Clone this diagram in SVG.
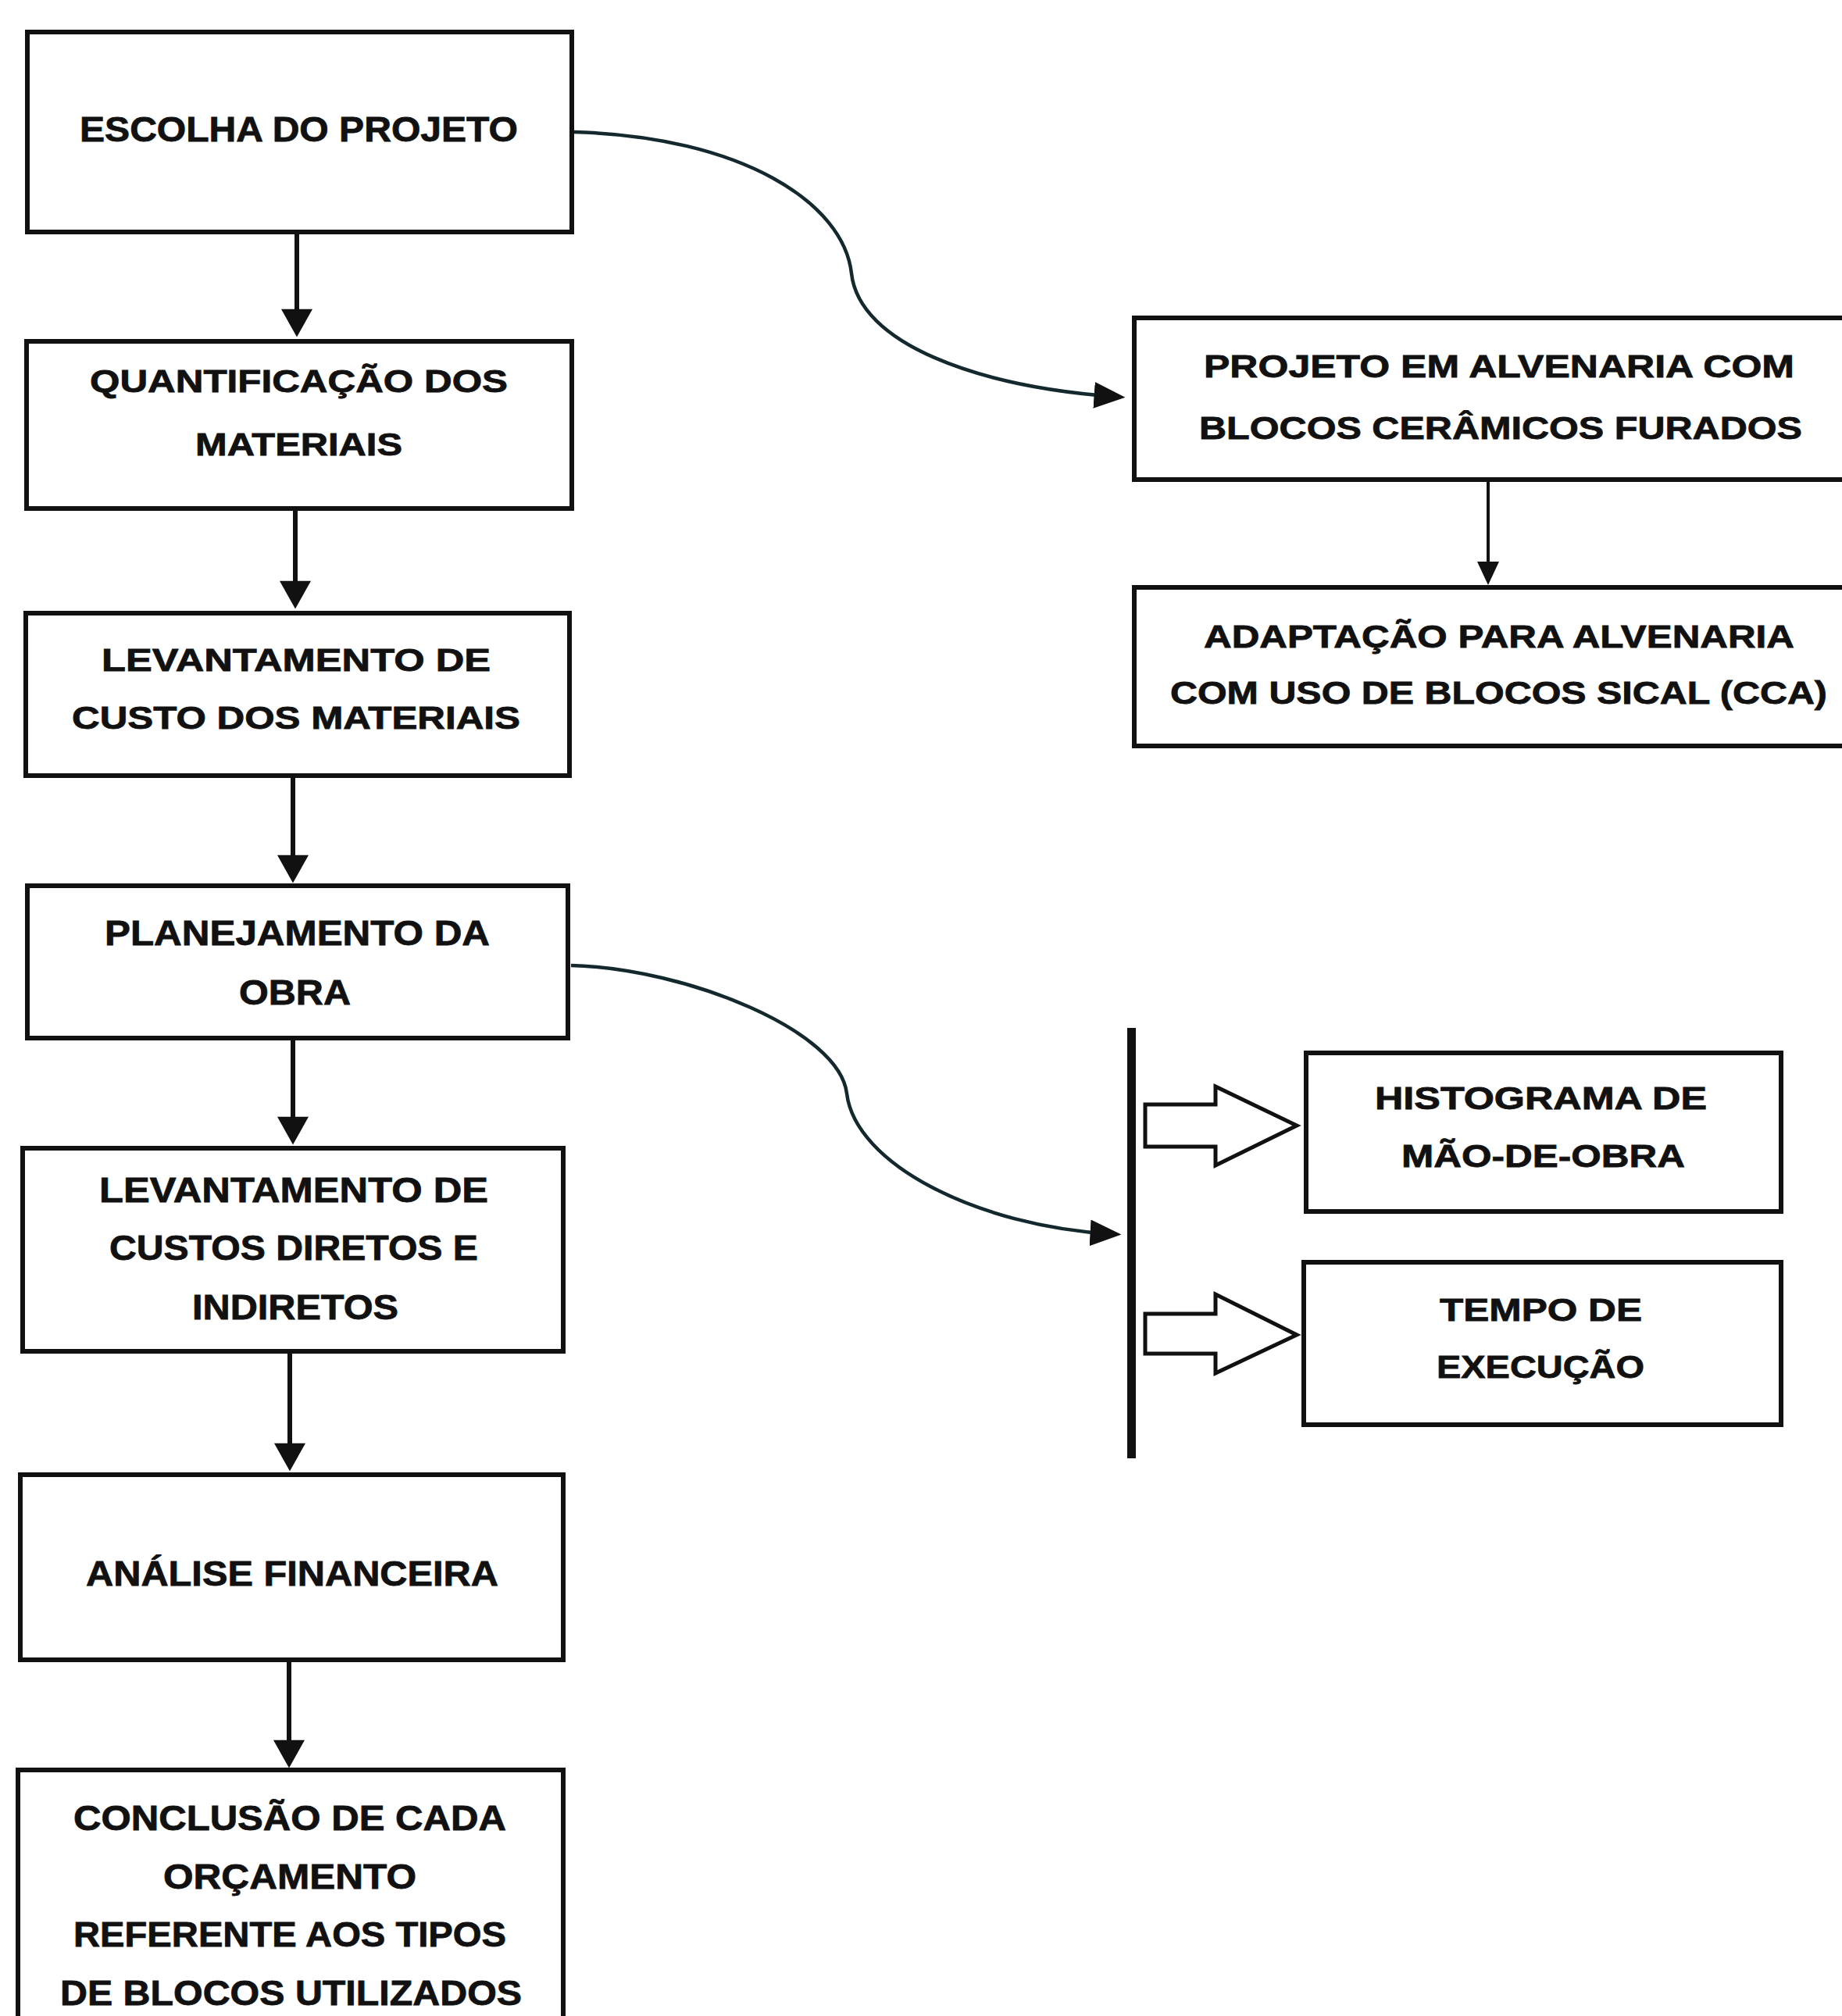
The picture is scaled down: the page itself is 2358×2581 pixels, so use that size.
<svg xmlns="http://www.w3.org/2000/svg" width="2358" height="2581" viewBox="0 0 2358 2581">
<style>
.box{fill:#fff;stroke:#111;stroke-width:6}
.t{font-family:"Liberation Sans",Arial,sans-serif;font-weight:bold;fill:#111;stroke:#111;stroke-width:0.8;font-size:45px}
.s{font-size:41px}
.v{fill:none;stroke:#111;stroke-width:6}
.c{fill:none;stroke:#13292e;stroke-width:4.5}
.blk{fill:#fff;stroke:#111;stroke-width:5;stroke-linejoin:miter}
</style>
<defs>
<marker id="ah" markerUnits="userSpaceOnUse" markerWidth="40" markerHeight="40" viewBox="0 0 34 38" refX="24" refY="19" orient="auto">
<path d="M0,0 L34,19 L0,38 z" fill="#111"/>
</marker>
<marker id="ahs" markerUnits="userSpaceOnUse" markerWidth="30" markerHeight="30" viewBox="0 0 30 28" refX="20" refY="14" orient="auto">
<path d="M0,0 L30,14 L0,28 z" fill="#111"/>
</marker>
<marker id="ahc" markerUnits="userSpaceOnUse" markerWidth="40" markerHeight="34" viewBox="0 0 38 32" refX="28" refY="16" orient="auto">
<path d="M0,0 L38,16 L0,32 z" fill="#111"/>
</marker>
</defs>
<rect width="2358" height="2581" fill="#fff"/>

<g id="connectors">
<line class="v" x1="380" y1="300" x2="380" y2="421" marker-end="url(#ah)"/>
<line class="v" x1="378" y1="654" x2="378" y2="769" marker-end="url(#ah)"/>
<line class="v" x1="375" y1="996" x2="375" y2="1120" marker-end="url(#ah)"/>
<line class="v" x1="375" y1="1332" x2="375" y2="1455" marker-end="url(#ah)"/>
<line class="v" x1="371" y1="1733" x2="371" y2="1873" marker-end="url(#ah)"/>
<line class="v" x1="370" y1="2128" x2="370" y2="2253" marker-end="url(#ah)"/>
<line class="v" style="stroke-width:4" x1="1905" y1="617" x2="1905" y2="739" marker-end="url(#ahs)"/>
<path class="c" d="M735,169 C950,175 1080,260 1090,350 C1100,440 1250,495 1430,508" marker-end="url(#ahc)"/>
<path class="c" d="M731,1236 C880,1240 1075,1320 1084,1400 C1095,1490 1250,1570 1425,1580" marker-end="url(#ahc)"/>
<rect x="1443" y="1316" width="11" height="551" fill="#111"/>
<polygon class="blk" points="1466,1414 1556,1414 1556,1391 1660,1441 1556,1492 1556,1468 1466,1468"/>
<polygon class="blk" points="1466,1682 1556,1682 1556,1657 1660,1709 1556,1758 1556,1733 1466,1733"/>
</g>

<g id="n1">
<rect class="box" x="35" y="41" width="697" height="256"/>
<text class="t" x="102" y="181" textLength="561" lengthAdjust="spacingAndGlyphs">ESCOLHA DO PROJETO</text>
</g>
<g id="n2">
<rect class="box" x="34" y="437" width="698" height="214"/>
<text class="t s" x="115" y="502" textLength="535" lengthAdjust="spacingAndGlyphs">QUANTIFICAÇÃO DOS</text>
<text class="t s" x="250" y="583" textLength="265" lengthAdjust="spacingAndGlyphs">MATERIAIS</text>
</g>
<g id="n3">
<rect class="box" x="33" y="785" width="696" height="208"/>
<text class="t s" x="130" y="859" textLength="498" lengthAdjust="spacingAndGlyphs">LEVANTAMENTO  DE</text>
<text class="t s" x="92" y="933" textLength="574" lengthAdjust="spacingAndGlyphs">CUSTO DOS MATERIAIS</text>
</g>
<g id="n4">
<rect class="box" x="35" y="1134" width="692" height="195"/>
<text class="t" x="134" y="1210" textLength="493" lengthAdjust="spacingAndGlyphs">PLANEJAMENTO DA</text>
<text class="t" x="306" y="1286" textLength="143" lengthAdjust="spacingAndGlyphs">OBRA</text>
</g>
<g id="n5">
<rect class="box" x="29" y="1470" width="692" height="260"/>
<text class="t" x="127" y="1539" textLength="498" lengthAdjust="spacingAndGlyphs">LEVANTAMENTO  DE</text>
<text class="t" x="140" y="1613" textLength="472" lengthAdjust="spacingAndGlyphs">CUSTOS DIRETOS E</text>
<text class="t" x="246" y="1689" textLength="264" lengthAdjust="spacingAndGlyphs">INDIRETOS</text>
</g>
<g id="n6">
<rect class="box" x="26" y="1888" width="695" height="237"/>
<text class="t" x="110" y="2030" textLength="528" lengthAdjust="spacingAndGlyphs">ANÁLISE FINANCEIRA</text>
</g>
<g id="n7">
<rect class="box" x="23" y="2266" width="698" height="400"/>
<text class="t" x="94" y="2343" textLength="554" lengthAdjust="spacingAndGlyphs">CONCLUSÃO DE CADA</text>
<text class="t" x="209" y="2418" textLength="324" lengthAdjust="spacingAndGlyphs">ORÇAMENTO</text>
<text class="t" x="94" y="2492" textLength="554" lengthAdjust="spacingAndGlyphs">REFERENTE AOS TIPOS</text>
<text class="t" x="77" y="2567" textLength="591" lengthAdjust="spacingAndGlyphs">DE BLOCOS  UTILIZADOS</text>
</g>
<g id="n8">
<rect class="box" x="1452" y="407" width="950" height="207"/>
<text class="t s" x="1541" y="483" textLength="756" lengthAdjust="spacingAndGlyphs">PROJETO EM ALVENARIA COM</text>
<text class="t s" x="1535" y="562" textLength="772" lengthAdjust="spacingAndGlyphs">BLOCOS CERÂMICOS FURADOS</text>
</g>
<g id="n9">
<rect class="box" x="1452" y="752" width="950" height="203"/>
<text class="t s" x="1541" y="829" textLength="756" lengthAdjust="spacingAndGlyphs">ADAPTAÇÃO PARA ALVENARIA</text>
<text class="t s" x="1498" y="901" textLength="841" lengthAdjust="spacingAndGlyphs">COM USO DE BLOCOS SICAL  (CCA)</text>
</g>
<g id="n10">
<rect class="box" x="1672" y="1348" width="608" height="203"/>
<text class="t s" x="1760" y="1420" textLength="425" lengthAdjust="spacingAndGlyphs">HISTOGRAMA DE</text>
<text class="t s" x="1794" y="1494" textLength="363" lengthAdjust="spacingAndGlyphs">MÃO-DE-OBRA</text>
</g>
<g id="n11">
<rect class="box" x="1669" y="1616" width="611" height="208"/>
<text class="t s" x="1843" y="1691" textLength="259" lengthAdjust="spacingAndGlyphs">TEMPO DE</text>
<text class="t s" x="1839" y="1764" textLength="266" lengthAdjust="spacingAndGlyphs">EXECUÇÃO</text>
</g>
</svg>
